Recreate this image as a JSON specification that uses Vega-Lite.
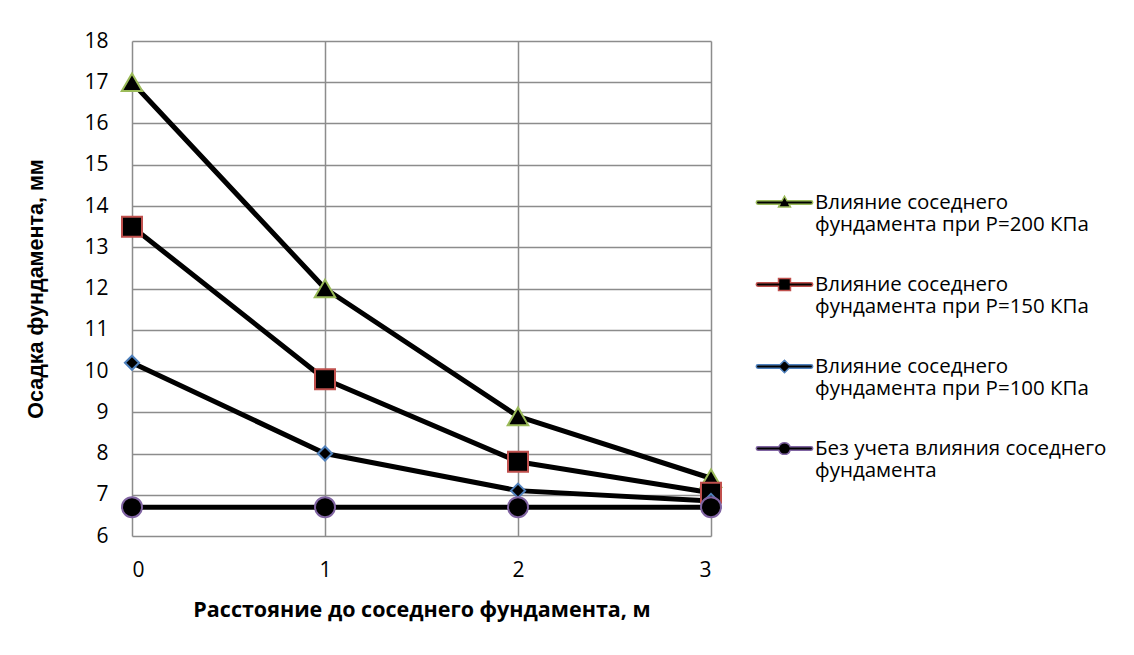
{
  "$schema": "https://vega.github.io/schema/vega-lite/v6.json",
  "width": 579,
  "height": 495,
  "autosize": {"type": "none"},
  "padding": {"left": 132, "top": 41, "right": 423, "bottom": 119},
  "background": "white",
  "config": {
    "view": {"stroke": null},
    "axis": {
      "grid": true,
      "gridColor": "#8C8C8C",
      "gridWidth": 1.5,
      "domain": false,
      "ticks": false,
      "labelFont": "Open Sans",
      "labelFontSize": 21,
      "labelColor": "#000000",
      "titleColor": "#000000",
      "titleFontWeight": "bold"
    }
  },
  "data": {
    "values": [
      {"x": 0, "y": 17, "s": "Влияние соседнего фундамента при Р=200 КПа"},
      {"x": 1, "y": 12, "s": "Влияние соседнего фундамента при Р=200 КПа"},
      {"x": 2, "y": 8.9, "s": "Влияние соседнего фундамента при Р=200 КПа"},
      {"x": 3, "y": 7.4, "s": "Влияние соседнего фундамента при Р=200 КПа"},
      {"x": 0, "y": 13.5, "s": "Влияние соседнего фундамента при Р=150 КПа"},
      {"x": 1, "y": 9.8, "s": "Влияние соседнего фундамента при Р=150 КПа"},
      {"x": 2, "y": 7.8, "s": "Влияние соседнего фундамента при Р=150 КПа"},
      {"x": 3, "y": 7.05, "s": "Влияние соседнего фундамента при Р=150 КПа"},
      {"x": 0, "y": 10.2, "s": "Влияние соседнего фундамента при Р=100 КПа"},
      {"x": 1, "y": 8.0, "s": "Влияние соседнего фундамента при Р=100 КПа"},
      {"x": 2, "y": 7.1, "s": "Влияние соседнего фундамента при Р=100 КПа"},
      {"x": 3, "y": 6.85, "s": "Влияние соседнего фундамента при Р=100 КПа"},
      {"x": 0, "y": 6.7, "s": "Без учета влияния соседнего фундамента"},
      {"x": 1, "y": 6.7, "s": "Без учета влияния соседнего фундамента"},
      {"x": 2, "y": 6.7, "s": "Без учета влияния соседнего фундамента"},
      {"x": 3, "y": 6.7, "s": "Без учета влияния соседнего фундамента"}
    ]
  },
  "encoding": {
    "x": {
      "field": "x",
      "type": "quantitative",
      "scale": {"domain": [0, 3], "nice": false, "zero": false},
      "axis": {
        "values": [0, 1, 2, 3],
        "format": "d",
        "labelPadding": 23,
        "title": "Расстояние до соседнего фундамента, м",
        "titleFont": "Open Sans",
        "titleFontSize": 21.5,
        "titlePadding": 19
      }
    },
    "y": {
      "field": "y",
      "type": "quantitative",
      "scale": {"domain": [6, 18], "nice": false, "zero": false},
      "axis": {
        "values": [6, 7, 8, 9, 10, 11, 12, 13, 14, 15, 16, 17, 18],
        "format": "d",
        "labelPadding": 24,
        "title": "Осадка фундамента, мм",
        "titleFont": "Liberation Sans",
        "titleFontSize": 21.5,
        "titlePadding": 36
      }
    }
  },
  "layer": [
    {
      "mark": {"type": "line", "color": "#000000", "strokeWidth": 5, "strokeCap": "round", "strokeJoin": "round"},
      "encoding": {"detail": {"field": "s"}}
    },
    {
      "mark": {"type": "point", "filled": true, "color": "#000000", "opacity": 0},
      "encoding": {
        "stroke": {
          "field": "s",
          "type": "nominal",
          "sort": null,
          "scale": {
            "domain": [
              "Влияние соседнего фундамента при Р=200 КПа",
              "Влияние соседнего фундамента при Р=150 КПа",
              "Влияние соседнего фундамента при Р=100 КПа",
              "Без учета влияния соседнего фундамента"
            ],
            "range": ["#9BBB59", "#C0504D", "#4F81BD", "#8064A2"]
          },
          "legend": {
            "orient": "none",
            "legendX": 623,
            "legendY": 132,
            "title": null,
            "padding": 0,
            "symbolSize": 3249,
            "labelFont": "Open Sans",
            "labelFontSize": 20.5,
            "labelColor": "#000000",
            "labelLimit": 400,
            "labelOffset": 1,
            "rowPadding": 19,
            "labelExpr": "indexof(datum.label, 'Без') === 0 ? ['Без учета влияния соседнего', 'фундамента'] : [slice(datum.label, 0, 17), slice(datum.label, 18)]",
            "encode": {
              "symbols": {
                "fill": {"value": "#000000"},
                "fillOpacity": {"value": 1},
                "strokeWidth": {"value": 1.2},
                "strokeOpacity": {"value": 1},
                "size": {"value": 3249},
                "opacity": {"value": 1}
              },
              "labels": {
                "dy": {"value": 12}
              }
            }
          }
        },
        "shape": {
          "field": "s",
          "type": "nominal",
          "sort": null,
          "scale": {
            "domain": [
              "Влияние соседнего фундамента при Р=200 КПа",
              "Влияние соседнего фундамента при Р=150 КПа",
              "Влияние соседнего фундамента при Р=100 КПа",
              "Без учета влияния соседнего фундамента"
            ],
            "range": [
              "M-0.93,0.06 A0.06,0.06 0 0 1 -0.93,-0.06 L-0.09,-0.06 L0,-0.22 L0.09,-0.06 L0.93,-0.06 A0.06,0.06 0 0 1 0.93,0.06 L0.16,0.06 L0.21,0.16 L-0.21,0.16 L-0.16,0.06 Z",
              "M-0.93,0.06 A0.06,0.06 0 0 1 -0.93,-0.06 L-0.21,-0.06 L-0.21,-0.21 L0.21,-0.21 L0.21,-0.06 L0.93,-0.06 A0.06,0.06 0 0 1 0.93,0.06 L0.21,0.06 L0.21,0.21 L-0.21,0.21 L-0.21,0.06 Z",
              "M-0.93,0.06 A0.06,0.06 0 0 1 -0.93,-0.06 L-0.16,-0.06 L0,-0.22 L0.16,-0.06 L0.93,-0.06 A0.06,0.06 0 0 1 0.93,0.06 L0.16,0.06 L0,0.22 L-0.16,0.06 Z",
              "M-0.93,0.06 A0.06,0.06 0 0 1 -0.93,-0.06 L-0.2,-0.06 A0.21,0.21 0 0 1 0.2,-0.06 L0.93,-0.06 A0.06,0.06 0 0 1 0.93,0.06 L0.2,0.06 A0.21,0.21 0 0 1 -0.2,0.06 Z"
            ]
          }
        }
      }
    },
    {
      "transform": [{"filter": "datum.s === 'Влияние соседнего фундамента при Р=200 КПа'"}],
      "mark": {"type": "point", "shape": "triangle-up", "filled": true, "fill": "#000000", "stroke": "#9BBB59", "strokeWidth": 2, "size": 420, "opacity": 1}
    },
    {
      "transform": [{"filter": "datum.s === 'Влияние соседнего фундамента при Р=150 КПа'"}],
      "mark": {"type": "point", "shape": "square", "filled": true, "fill": "#000000", "stroke": "#C0504D", "strokeWidth": 2, "size": 400, "opacity": 1}
    },
    {
      "transform": [{"filter": "datum.s === 'Влияние соседнего фундамента при Р=100 КПа'"}],
      "mark": {"type": "point", "shape": "diamond", "filled": true, "fill": "#000000", "stroke": "#4F81BD", "strokeWidth": 2, "size": 200, "opacity": 1}
    },
    {
      "transform": [{"filter": "datum.s === 'Без учета влияния соседнего фундамента'"}],
      "mark": {"type": "point", "shape": "circle", "filled": true, "fill": "#000000", "stroke": "#8064A2", "strokeWidth": 2, "size": 400, "opacity": 1}
    }
  ]
}
